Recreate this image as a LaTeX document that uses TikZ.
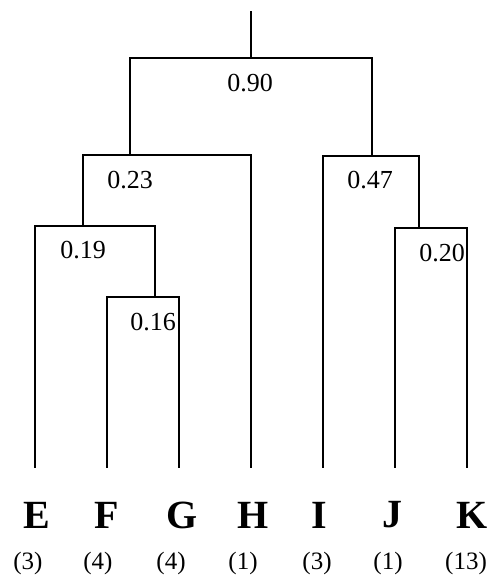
\documentclass[tikz,border=0pt]{standalone}
\usepackage{fontspec}
\setmainfont{Liberation Serif}
\begin{document}
\begin{tikzpicture}[x=1pt,y=-1pt,
  branch/.style={line width=2.7pt,line join=miter,line cap=rect},
  level/.style={font=\fontsize{26}{28}\selectfont,inner sep=0pt},
  leaf/.style={font=\fontsize{40}{42}\selectfont\bfseries,inner sep=0pt},
  size/.style={font=\fontsize{25}{27}\selectfont,inner sep=0pt}]
\useasboundingbox (0,0) rectangle (498,582);

% leaf tips
\coordinate (tE) at (35,467);
\coordinate (tF) at (107,467);
\coordinate (tG) at (179,467);
\coordinate (tH) at (251,467);
\coordinate (tI) at (323,467);
\coordinate (tJ) at (395,467);
\coordinate (tK) at (467,467);

% junctions where a cluster hangs from its parent
\coordinate (root) at (251,12);
\coordinate (j90) at (251,58);
\coordinate (j23) at (130,155);
\coordinate (j47) at (372,156);
\coordinate (j19) at (83,226);
\coordinate (j20) at (419,228);
\coordinate (j16) at (155,297);

% tree
\draw[branch] (root) -- (j90);
\draw[branch] (j23) |- (j47 |- j90) -- (j47);
\draw[branch] (j19) |- (tH |- j23) -- (tH);
\draw[branch] (tI) |- (j20 |- j47) -- (j20);
\draw[branch] (tE) |- (j16 |- j19) -- (j16);
\draw[branch] (tF) |- (tG |- j16) -- (tG);
\draw[branch] (tJ) |- (tK |- j20) -- (tK);

% fusion levels
\node[level] (l90) at (250,83) {0.90};
\node[level] (l23) at (130,180) {0.23};
\node[level] (l47) at (370,180) {0.47};
\node[level] (l19) at (83,250) {0.19};
\node[level] (l20) at (442,253) {0.20};
\node[level] (l16) at (153,322) {0.16};

% leaf names
\node[leaf] (E) at (37,515) {E};
\node[leaf] (F) at (107,515) {F};
\node[leaf] (G) at (182,515) {G};
\node[leaf] (H) at (253,515) {H};
\node[leaf] (I) at (319,515) {I};
\node[leaf] (J) at (392,515) {J};
\node[leaf] (K) at (472,515) {K};

% group sizes
\node[size] (nE) at (28,563) {(3)};
\node[size] (nF) at (98,563) {(4)};
\node[size] (nG) at (171,563) {(4)};
\node[size] (nH) at (243,563) {(1)};
\node[size] (nI) at (317,563) {(3)};
\node[size] (nJ) at (388,563) {(1)};
\node[size] (nK) at (466,563) {(13)};
\end{tikzpicture}
\end{document}
